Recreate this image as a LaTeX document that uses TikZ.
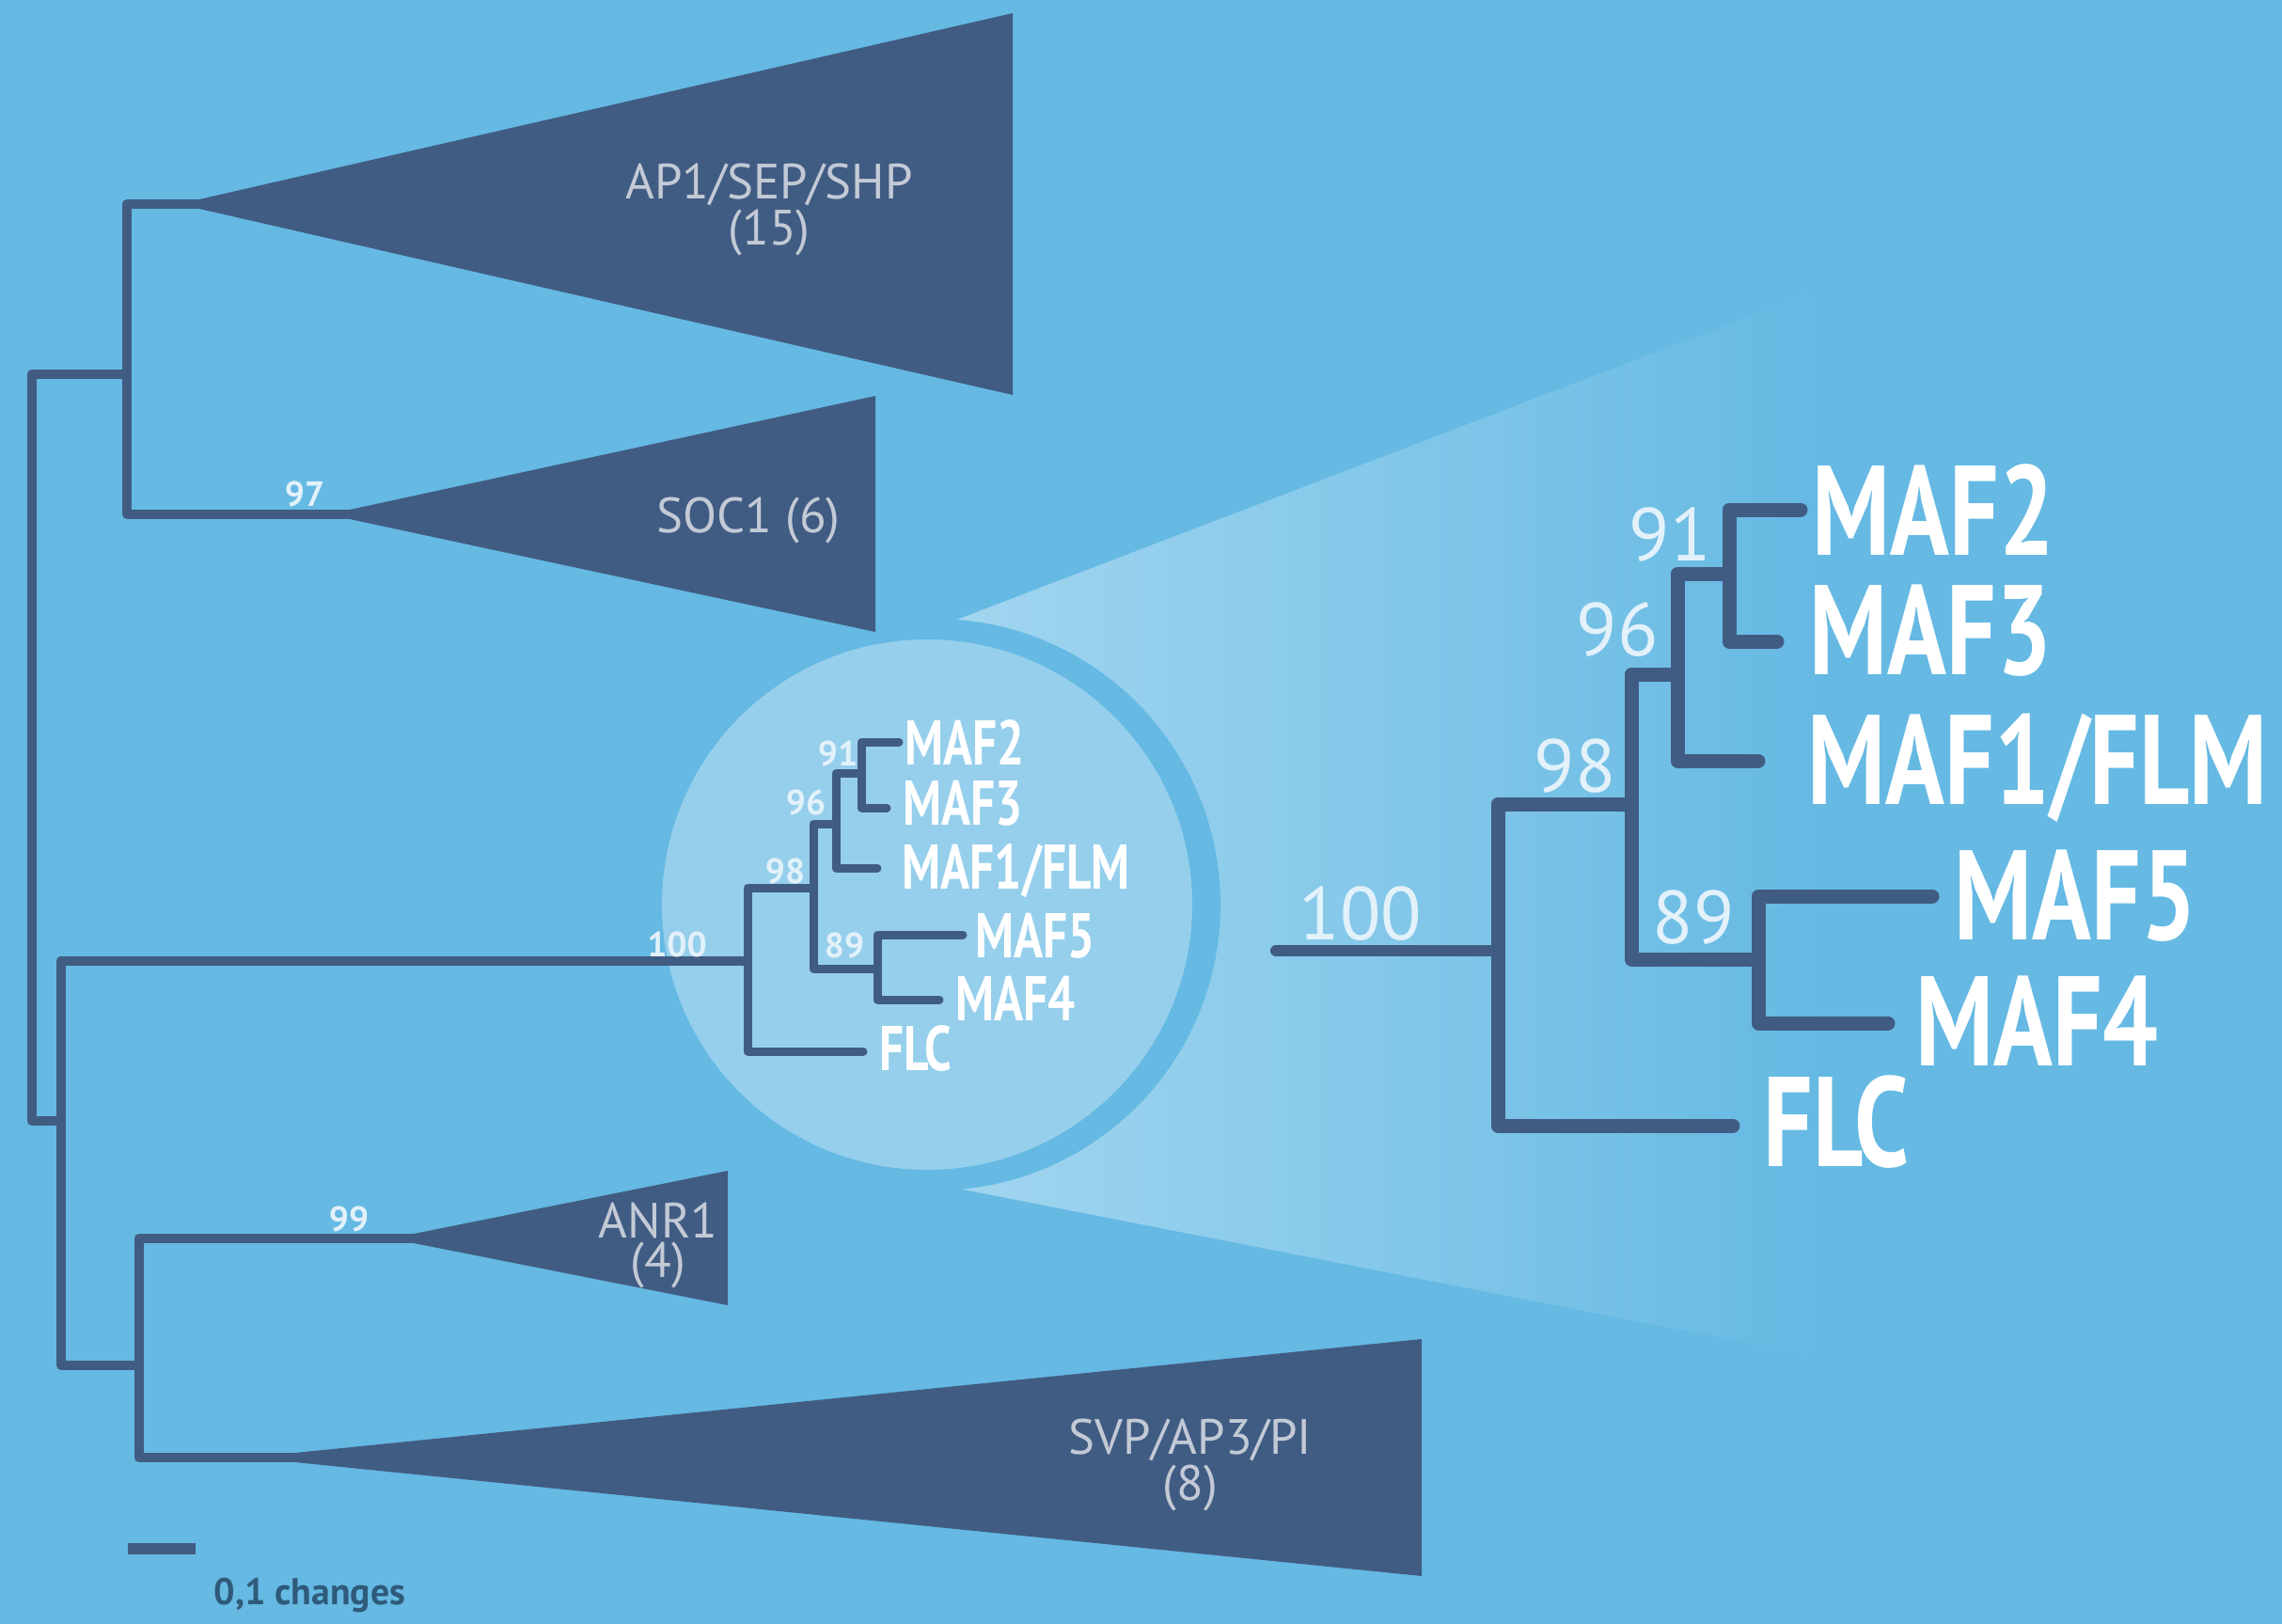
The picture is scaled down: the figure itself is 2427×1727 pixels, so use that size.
\documentclass[tikz,border=0pt]{standalone}
\usepackage{fontspec}
\setmainfont{PT Sans}
\newfontfamily\condfont[FakeStretch=0.765]{PT Sans}
\usetikzlibrary{calc}
\definecolor{bg}{HTML}{65B9E3}
\definecolor{navy}{HTML}{415C83}
\definecolor{innerc}{HTML}{96CFEC}
\definecolor{conelight}{HTML}{A3D6F0}
\definecolor{greytxt}{HTML}{C3CAD6}
\definecolor{paletxt}{HTML}{E2F1FA}
\definecolor{scaletxt}{HTML}{2F5A7A}
\begin{document}
\begin{tikzpicture}[x=0.1mm,y=-0.1mm,
  branch/.style={draw=navy,line width=1mm,line join=round,line cap=round},
  smallbranch/.style={draw=navy,line width=0.9mm,line join=round,line cap=round},
  bigbranch/.style={draw=navy,line width=1.5mm,line join=round,line cap=round},
  clade/.style={fill=navy},
  grey/.style={text=greytxt,inner sep=0,anchor=base,align=center,font=\fontsize{15pt}{11.8pt}\selectfont},
  bigleaf/.style={text=white,inner sep=0,anchor=base west,font=\condfont\bfseries\fontsize{38.6pt}{40pt}\selectfont},
  smallleaf/.style={text=white,inner sep=0,anchor=base west,font=\condfont\bfseries\fontsize{19.1pt}{20pt}\selectfont},
  bigboot/.style={text=paletxt,inner sep=0,anchor=base,font=\fontsize{22.7pt}{24pt}\selectfont},
  smallboot/.style={text=paletxt,inner sep=0,anchor=base,font=\bfseries\fontsize{10.6pt}{12pt}\selectfont}
]
% background
\fill[bg] (0,0) rectangle (2427,1727);
\useasboundingbox (0,0) rectangle (2427,1727);
% magnifying cone
\shade[left color=conelight,right color=bg] (994,668) -- (1940,306) -- (1940,1444) -- (994,1259) -- cycle;
\fill[bg] (994,962) circle[radius=304];
\fill[innerc] (986,962) circle[radius=282];
% collapsed clades
\fill[clade] (212,212) -- (1077,14) -- (1077,420) -- (212,222) -- cycle;
\fill[clade] (372,542) -- (931,421) -- (931,672) -- (372,552) -- cycle;
\fill[clade] (440,1312) -- (774,1245) -- (774,1388) -- (440,1322) -- cycle;
\fill[clade] (314,1545) -- (1512,1424) -- (1512,1676) -- (314,1555) -- cycle;
% main tree coordinates
\coordinate (r0) at (34,398);
\coordinate (r1) at (34,1192);
\coordinate (a0) at (135,398);
\coordinate (a1) at (135,217);
\coordinate (a2) at (135,547);
\coordinate (apAP) at (212,217);
\coordinate (apSOC) at (372,547);
\coordinate (b0) at (65,1192);
\coordinate (b1) at (65,1022);
\coordinate (b2) at (65,1452);
\coordinate (c0) at (148,1452);
\coordinate (c1) at (148,1317);
\coordinate (c2) at (148,1550);
\coordinate (apANR) at (440,1317);
\coordinate (apSVP) at (314,1550);
\draw[branch] (a0) -- (r0) -- (r1) -- (b0);
\draw[branch] (apAP) -- (a1) -- (a2) -- (apSOC);
\draw[branch] (b1) -- (b2) -- (c0);
\draw[branch] (apANR) -- (c1) -- (c2) -- (apSVP);
% small tree
\coordinate (s0) at (795,1022);
\coordinate (s0t) at (795,944);
\coordinate (s0b) at (795,1118);
\coordinate (sFLC) at (918,1118);
\coordinate (s1) at (865,944);
\coordinate (s1t) at (865,876);
\coordinate (s1b) at (865,1030);
\coordinate (s2) at (889,876);
\coordinate (s2t) at (889,822);
\coordinate (s2b) at (889,923);
\coordinate (sMAF1) at (933,923);
\coordinate (s3) at (916,822);
\coordinate (s3t) at (916,789);
\coordinate (s3b) at (916,859);
\coordinate (sMAF2) at (956,789);
\coordinate (sMAF3) at (943,859);
\coordinate (s4) at (933,1030);
\coordinate (s4t) at (933,994);
\coordinate (s4b) at (933,1063);
\coordinate (sMAF5) at (1024,994);
\coordinate (sMAF4) at (999,1063);
\draw[branch] (b1) -- (s0);
\draw[smallbranch] (s1) -- (s0t) -- (s0b) -- (sFLC);
\draw[smallbranch] (s2) -- (s1t) -- (s1b) -- (s4);
\draw[smallbranch] (s3) -- (s2t) -- (s2b) -- (sMAF1);
\draw[smallbranch] (sMAF2) -- (s3t) -- (s3b) -- (sMAF3);
\draw[smallbranch] (sMAF5) -- (s4t) -- (s4b) -- (sMAF4);
% big tree
\coordinate (B) at (1357,1011);
\coordinate (B0) at (1593,1011);
\coordinate (B0t) at (1593,855);
\coordinate (B0b) at (1593,1197);
\coordinate (BFLC) at (1843,1197);
\coordinate (B1) at (1735,855);
\coordinate (B1t) at (1735,717);
\coordinate (B1b) at (1735,1020);
\coordinate (B2) at (1784,717);
\coordinate (B2t) at (1784,610);
\coordinate (B2b) at (1784,809);
\coordinate (BMAF1) at (1870,809);
\coordinate (B3) at (1839,610);
\coordinate (B3t) at (1839,542);
\coordinate (B3b) at (1839,682);
\coordinate (BMAF2) at (1915,542);
\coordinate (BMAF3) at (1890,682);
\coordinate (B4) at (1870,1020);
\coordinate (B4t) at (1870,953);
\coordinate (B4b) at (1870,1088);
\coordinate (BMAF5) at (2055,953);
\coordinate (BMAF4) at (2008,1088);
\draw[bigbranch,line width=1.2mm] (B) -- (B0);
\draw[bigbranch] (B1) -- (B0t) -- (B0b) -- (BFLC);
\draw[bigbranch] (B2) -- (B1t) -- (B1b) -- (B4);
\draw[bigbranch] (B3) -- (B2t) -- (B2b) -- (BMAF1);
\draw[bigbranch] (BMAF2) -- (B3t) -- (B3b) -- (BMAF3);
\draw[bigbranch] (BMAF5) -- (B4t) -- (B4b) -- (BMAF4);
% clade labels (anchor base = baseline of last line)
\node[grey] (lAP) at (818,260) {AP1/SEP/SHP\\(15)};
\node[grey] (lSOC) at (796,566) {SOC1 (6)};
\node[grey] (lANR) at (700,1358) {ANR1\\(4)};
\node[grey] (lSVP) at (1266,1595) {SVP/AP3/PI\\(8)};
% bootstrap small
\node[smallboot] (n97) at (324,538) {97};
\node[smallboot] (n99) at (371,1309) {99};
\node[smallboot] (n100s) at (720,1017) {100};
\node[smallboot] (n98s) at (835,939) {98};
\node[smallboot] (n96s) at (857,866) {96};
\node[smallboot] (n91s) at (891,814) {91};
\node[smallboot] (n89s) at (898,1018) {89};
% small leaf labels
\node[smallleaf] (tMAF2s) at (962,813) {MAF2};
\node[smallleaf] (tMAF3s) at (960,877) {MAF3};
\node[smallleaf] (tMAF1s) at (959,945) {MAF1/FLM};
\node[smallleaf] (tMAF5s) at (1037,1018) {MAF5};
\node[smallleaf] (tMAF4s) at (1016,1085) {MAF4};
\node[smallleaf] (tFLCs) at (935,1138) {FLC};
% big bootstrap
\node[bigboot] (n100) at (1447,999) {100};
\node[bigboot] (n98) at (1675,842) {98};
\node[bigboot] (n96) at (1720,697) {96};
\node[bigboot] (n91) at (1776,596) {91};
\node[bigboot] (n89) at (1801,1003) {89};
% big leaf labels
\node[bigleaf] (tMAF2) at (1927,590) {MAF2};
\node[bigleaf] (tMAF3) at (1924,717) {MAF3};
\node[bigleaf] (tMAF1) at (1922,855) {MAF1/FLM};
\node[bigleaf] (tMAF5) at (2078,999) {MAF5};
\node[bigleaf] (tMAF4) at (2037,1133) {MAF4};
\node[bigleaf] (tFLC) at (1875,1240) {FLC};
% scale bar
\coordinate (sb0) at (136,1647);
\coordinate (sb1) at (208,1647);
\draw[navy,line width=1.2mm] (sb0) -- (sb1);
\node[text=scaletxt,inner sep=0,anchor=base west,font=\bfseries\fontsize{11.3pt}{12pt}\selectfont] (sbl) at (227,1706) {0,1 changes};
\end{tikzpicture}
\end{document}
